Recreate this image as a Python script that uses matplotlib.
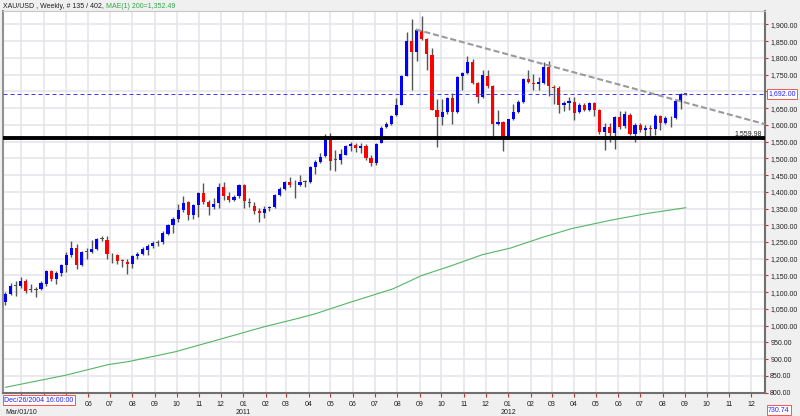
import numpy as np
import pandas as pd
import matplotlib
matplotlib.use("Agg")
import matplotlib.pyplot as plt
import matplotlib.dates as mdates
import matplotlib.transforms as mtrans

plt.rcParams['font.family'] = ['Liberation Sans', 'DejaVu Sans']

# weekly XAU/USD bars, first bar week of 2010-02-07
first_week = '2010-02-07'
opens = [1070, 1095, 1120, 1119, 1134, 1106, 1108, 1110, 1125, 1162,
         1139, 1157, 1180, 1210, 1232, 1180, 1220, 1221, 1229, 1258,
         1257, 1213, 1210, 1195, 1190, 1183, 1207, 1215, 1227, 1237,
         1247, 1249, 1275, 1300, 1320, 1347, 1369, 1330, 1362, 1397,
         1369, 1355, 1367, 1414, 1386, 1376, 1386, 1419, 1366, 1359,
         1343, 1336, 1352, 1356, 1389, 1409, 1429, 1419, 1419, 1429,
         1429, 1474, 1489, 1507, 1562, 1494, 1496, 1511, 1536, 1541,
         1532, 1538, 1502, 1486, 1547, 1593, 1602, 1628, 1660, 1745,
         1851, 1818, 1881, 1856, 1810, 1645, 1623, 1638, 1680, 1638,
         1745, 1755, 1788, 1725, 1683, 1745, 1715, 1601, 1608, 1561,
         1618, 1638, 1668, 1738, 1726, 1723, 1725, 1773, 1713, 1711,
         1659, 1664, 1669, 1639, 1659, 1644, 1666, 1644, 1579, 1594,
         1576, 1624, 1596, 1629, 1572, 1599, 1584, 1591, 1589, 1626,
         1606, 1621, 1619, 1669, 1693]
highs = [1102, 1129, 1134, 1145, 1139, 1124, 1117, 1134, 1167, 1165,
         1162, 1184, 1220, 1252, 1245, 1222, 1232, 1255, 1262, 1269,
         1267, 1217, 1215, 1200, 1200, 1210, 1220, 1235, 1243, 1253,
         1255, 1283, 1303, 1325, 1365, 1387, 1373, 1365, 1398, 1425,
         1375, 1380, 1425, 1429, 1399, 1389, 1422, 1422, 1382, 1369,
         1352, 1359, 1359, 1392, 1414, 1432, 1444, 1434, 1449, 1434,
         1477, 1494, 1517, 1572, 1576, 1526, 1529, 1540, 1549, 1546,
         1545, 1544, 1510, 1546, 1597, 1608, 1630, 1680, 1748, 1878,
         1915, 1886, 1925, 1858, 1828, 1678, 1678, 1683, 1695, 1745,
         1758, 1805, 1798, 1728, 1763, 1763, 1718, 1643, 1611, 1618,
         1663, 1673, 1740, 1765, 1753, 1743, 1788, 1790, 1718, 1715,
         1672, 1684, 1684, 1664, 1664, 1669, 1669, 1646, 1604, 1604,
         1626, 1642, 1642, 1634, 1604, 1606, 1599, 1599, 1631, 1629,
         1626, 1626, 1676, 1696, 1694]
lows = [1062, 1091, 1089, 1112, 1099, 1100, 1087, 1107, 1120, 1134,
        1125, 1147, 1159, 1205, 1169, 1177, 1199, 1217, 1225, 1252,
        1199, 1187, 1183, 1175, 1155, 1173, 1200, 1210, 1210, 1233,
        1237, 1245, 1270, 1278, 1310, 1340, 1317, 1320, 1325, 1365,
        1330, 1350, 1353, 1374, 1369, 1372, 1382, 1352, 1356, 1334,
        1309, 1322, 1344, 1352, 1386, 1404, 1414, 1381, 1417, 1414,
        1426, 1452, 1486, 1504, 1464, 1462, 1484, 1509, 1522, 1520,
        1516, 1496, 1478, 1480, 1545, 1590, 1600, 1625, 1658, 1745,
        1703, 1792, 1853, 1763, 1643, 1535, 1598, 1633, 1603, 1635,
        1705, 1753, 1723, 1665, 1681, 1711, 1568, 1598, 1523, 1558,
        1613, 1635, 1665, 1726, 1703, 1703, 1723, 1685, 1663, 1635,
        1640, 1644, 1614, 1634, 1642, 1642, 1626, 1574, 1524, 1549,
        1529, 1589, 1592, 1569, 1549, 1579, 1564, 1564, 1569, 1584,
        1602, 1594, 1616, 1646, 1690]
closes = [1095, 1119, 1120, 1134, 1104, 1106, 1108, 1129, 1162, 1139,
          1157, 1180, 1210, 1232, 1180, 1219, 1220, 1229, 1259, 1258,
          1214, 1213, 1193, 1192, 1183, 1207, 1215, 1229, 1239, 1248,
          1247, 1277, 1300, 1320, 1347, 1368, 1330, 1360, 1397, 1370,
          1355, 1365, 1415, 1386, 1376, 1384, 1419, 1372, 1366, 1342,
          1338, 1350, 1356, 1389, 1409, 1429, 1419, 1421, 1429, 1429,
          1474, 1489, 1504, 1566, 1492, 1494, 1514, 1536, 1542, 1530,
          1538, 1502, 1486, 1542, 1592, 1602, 1625, 1658, 1745, 1851,
          1818, 1883, 1856, 1811, 1645, 1623, 1638, 1680, 1638, 1743,
          1755, 1788, 1725, 1683, 1748, 1715, 1601, 1608, 1561, 1616,
          1638, 1668, 1738, 1728, 1723, 1728, 1773, 1715, 1711, 1659,
          1664, 1671, 1634, 1659, 1644, 1666, 1644, 1579, 1594, 1576,
          1624, 1594, 1631, 1572, 1599, 1584, 1591, 1589, 1626, 1606,
          1621, 1619, 1672, 1691, 1692]

# 200 week moving average, read at some bars (bar number, value)
ma_weeks = [0, 11.8, 20.3, 24.3, 33.4, 41.9, 51, 56.6, 60.9, 67.9,
            76.3, 82, 87.6, 93.9, 99.5, 106, 111.5, 119.2, 126.3, 134]
ma_vals = [816, 852, 884, 893, 922, 958, 997, 1018, 1035, 1070,
           1110, 1150, 1178, 1212, 1232, 1265, 1290, 1315, 1335, 1352.49]

level = 1559.98
bid = 1692.00
trend_weeks = [80.8, 149.6]
trend_prices = [1885, 1602]
price_ticks = list(range(800, 1901, 50))

dates = pd.date_range(first_week, periods=len(opens), freq='7D')
x = mdates.date2num(dates)
x0 = x[0]


def wk(w):
    return x0 + np.asarray(w, dtype=float) * 7


fig = plt.figure(figsize=(8, 4.16), dpi=100, facecolor='#f0f0f0')
ax = fig.add_axes([3 / 800, 23 / 416, 762 / 800, 382 / 416])
ax.set_facecolor('white')

o = np.array(opens, float)
h = np.array(highs, float)
l = np.array(lows, float)
c = np.array(closes, float)
col = np.where(c - o > 1.5, '#0000ff', np.where(o - c > 1.5, '#ff0000', '#505050'))
ax.vlines(x, l, h, color='#555555', lw=1.0, zorder=3)
ax.bar(x, np.maximum(np.abs(c - o), 2.5), width=4.4, bottom=np.minimum(o, c),
       color=col, linewidth=0, zorder=4)

ax.plot(wk(ma_weeks), ma_vals, color='#55b565', lw=0.8, zorder=3)
ax.axhline(level, color='black', lw=2.8, zorder=5)
ax.axhline(bid, color='#3838ff', lw=0.7, ls=(0, (4.1, 3.1)), zorder=5)
ax.plot(wk(trend_weeks), trend_prices, color='#9a9a9a', lw=1.5,
        ls=(0, (2.9, 1.4)), zorder=5)

ax.set_xlim(x0 - 0.49 * 7, x0 + 149.6 * 7)
ax.set_ylim(799, 1940)

months = pd.date_range('2010-03-01', '2012-12-01', freq='MS')
ax.set_xticks(mdates.date2num(months))
# the first three month labels sit under the date box, so they are left empty
ax.set_xticklabels(['' if m < pd.Timestamp('2010-06-01') else m.strftime('%m')
                    for m in months])
ax.yaxis.tick_right()
ax.set_yticks(price_ticks)
# 1,700.00 is hidden by the bid box
ax.set_yticklabels(['' if v == 1700 else f'{v:,.2f}' for v in price_ticks])
ax.tick_params(axis='x', length=3, width=0.8, color='#d03030', labelsize=5,
               pad=2.5, labelcolor='#202020')
ax.tick_params(axis='y', length=2.5, width=0.8, color='#d03030', labelsize=5,
               pad=1.2, labelcolor='#202020')
ax.grid(True, color='#e4e4ea', lw=1.1)
ax.set_axisbelow(True)

ax.spines['left'].set_color('#909090')
ax.spines['left'].set_linewidth(1.5)
ax.spines['top'].set_color('#c8c8c8')
ax.spines['top'].set_linewidth(0.8)
for s in ['right', 'bottom']:
    ax.spines[s].set_color('#707070')
    ax.spines[s].set_linewidth(1.5)

ax.annotate(f'{level:,.2f}', xy=(1, level), xycoords=('axes fraction', 'data'),
            xytext=(-2, 1.2), textcoords='offset points', ha='right', va='bottom',
            fontsize=5, color='#202020', zorder=6)
ax.annotate(f'{bid:,.2f}', xy=(1, bid), xycoords=('axes fraction', 'data'),
            xytext=(2.2, 0), textcoords='offset points', ha='left', va='center',
            fontsize=5, color='#2020ff', annotation_clip=False, zorder=10,
            bbox=dict(boxstyle='square,pad=0.18', fc='white', ec='#ff5050', lw=0.7))

# second row of the time axis
row2 = mtrans.blended_transform_factory(ax.transData, ax.transAxes)
ax.text(mdates.date2num(pd.Timestamp('2010-03-01')), -0.05, 'Mar/01/10', transform=row2,
        ha='center', va='center', fontsize=5, color='#202020', clip_on=False)
for yr in ['2011', '2012']:
    ax.text(mdates.date2num(pd.Timestamp(yr + '-01-01')), -0.05, yr, transform=row2,
            ha='center', va='center', fontsize=5, color='#202020', clip_on=False)

fig.text(4 / 800, 1 - 400 / 416, 'Dec/26/2004 16:00:00', fontsize=5, color='#2020ff',
         ha='left', va='center', zorder=10,
         bbox=dict(boxstyle='square,pad=0.2', fc='white', ec='#ff5050', lw=0.7))
fig.text(768 / 800, 1 - 410 / 416, '730.74', fontsize=5, color='#2020ff',
         ha='left', va='center', zorder=10,
         bbox=dict(boxstyle='square,pad=0.2', fc='white', ec='#ff5050', lw=0.7))

# header
t1 = fig.text(3 / 800, 1 - 6 / 416, 'XAU/USD , Weekly, # 135 / 402, ', fontsize=5,
              color='#202020', ha='left', va='center')
fig.canvas.draw()
bb = t1.get_window_extent()
fig.text(bb.x1 / 800, 1 - 6 / 416, 'MAE(1) 200=1,352.49', fontsize=5,
         color='#2ea84a', ha='left', va='center')

fig.savefig('out.png', dpi=100, facecolor=fig.get_facecolor())
